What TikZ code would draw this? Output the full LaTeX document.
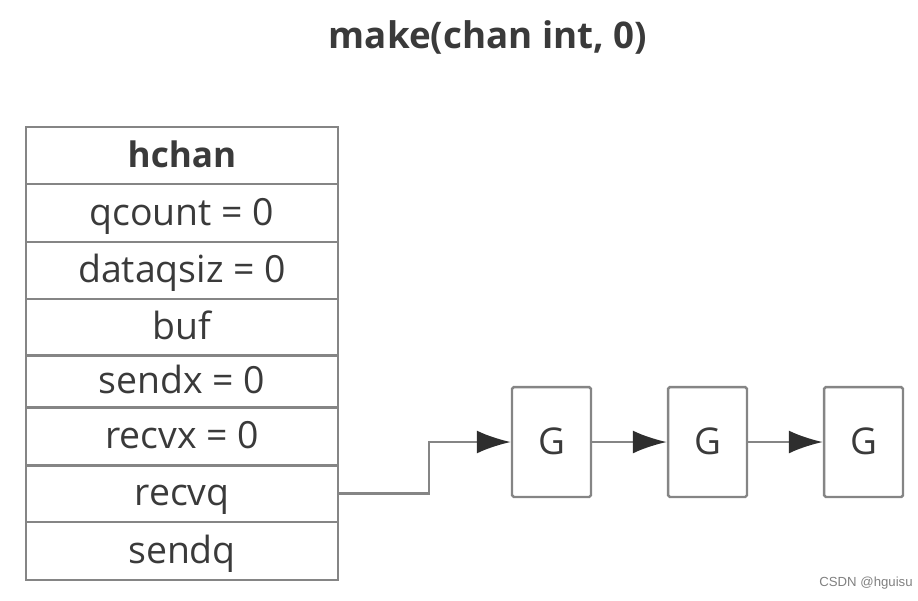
\documentclass[tikz,border=0pt]{standalone}
\usepackage{fontspec}
\setmainfont{Open Sans}
\newfontfamily\markfont{Liberation Sans}
\usepackage{tikz}
\usetikzlibrary{calc,arrows.meta}

\definecolor{linegray}{HTML}{858585}
\definecolor{textgray}{HTML}{3A3A3A}
\definecolor{tipgray}{HTML}{2E2E2E}

\begin{document}
\begin{tikzpicture}[x=0.02cm,y=-0.02cm]
            \tikzstyle{field}=[rectangle,draw=linegray,line width=1.4pt,text=textgray,minimum width=6.24cm,inner sep=0pt,text height=19pt,text depth=5pt,font=\fontsize{21.3}{24}\selectfont]
            \tikzstyle{gnode}=[rectangle,rounded corners=1pt,draw=linegray,line width=1.4pt,text=textgray,minimum width=1.58cm,minimum height=2.2cm,inner sep=0pt,text height=19pt,text depth=5pt,font=\fontsize{21}{24}\selectfont]
            \tikzstyle{link}=[draw=linegray,line width=1.4pt,-{Latex[length=0.68cm,width=0.46cm,color=tipgray]}]
            \useasboundingbox (0,0) rectangle (918,600);
            % title
            \node (title) at (488,37) [text=textgray,font=\fontsize{20.9}{24}\selectfont\bfseries] {make(chan int, 0)};
            % hchan struct
            \node (hchan) at (182,155.5) [field,minimum height=1.14cm,font=\fontsize{20}{24}\selectfont\bfseries] {hchan};
            \node (qcount) at (182,213) [field,minimum height=1.16cm] {qcount = 0};
            \node (dataqsiz) at (182,270.5) [field,minimum height=1.14cm] {dataqsiz = 0};
            \node (buf) at (182,327.5) [field,minimum height=1.14cm] {buf};
            \node (sendx) at (182,381.5) [field,minimum height=1.04cm] {sendx = 0};
            \node (recvx) at (182,436.5) [field,minimum height=1.16cm] {recvx = 0};
            \node (recvq) at (182,493.5) [field,minimum height=1.14cm] {recvq};
            \node (sendq) at (182,551) [field,minimum height=1.16cm] {sendq};
            % waiting goroutines
            \node (g1) at (551.5,442) [gnode] {G};
            \node (g2) at (707.5,442) [gnode] {G};
            \node (g3) at (863.5,442) [gnode] {G};
            \draw[link] (recvq.east) -- ++(90,0) |- (g1.west);
            \draw[link] (g1) -- (g2);
            \draw[link] (g2) -- (g3);
            \node (mark) at (866,583) [text=gray,font=\markfont\fontsize{7.5}{9}\selectfont] {CSDN @hguisu};
        \end{tikzpicture}
\end{document}
